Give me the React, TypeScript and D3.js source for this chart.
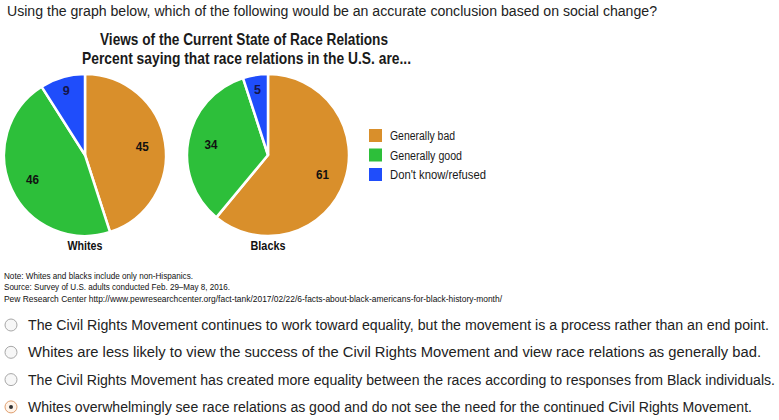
import { useEffect, useRef } from 'react';
import * as d3 from 'd3';

// categories, in the order the slices are drawn (clockwise from 12 o'clock)
const categories = ['Generally bad', 'Generally good', "Don't know/refused"];
const categoryColors = ['#d98f2b', '#2dbf3a', '#1f4dfb'];

// survey groups and their shares (percent)
const groups = ['Whites', 'Blacks'];
const whitesValues = [45, 46, 9];
const blacksValues = [61, 34, 5];

const question =
  'Using the graph below, which of the following would be an accurate conclusion based on social change?';
const titleLines = [
  'Views of the Current State of Race Relations',
  'Percent saying that race relations in the U.S. are...',
];
const notes = [
  'Note: Whites and blacks include only non-Hispanics.',
  'Source: Survey of U.S. adults conducted Feb. 29–May 8, 2016.',
  'Pew Research Center http://www.pewresearchcenter.org/fact-tank/2017/02/22/6-facts-about-black-americans-for-black-history-month/',
];
const options = [
  'The Civil Rights Movement continues to work toward equality, but the movement is a process rather than an end point.',
  'Whites are less likely to view the success of the Civil Rights Movement and view race relations as generally bad.',
  'The Civil Rights Movement has created more equality between the races according to responses from Black individuals.',
  'Whites overwhelmingly see race relations as good and do not see the need for the continued Civil Rights Movement.',
];
const selectedOption = 3;

function App() {
  const svgRef = useRef<SVGSVGElement>(null);

  useEffect(() => {
    if (!svgRef.current) return;
    const svg = d3.select(svgRef.current);
    svg.selectAll('*').remove();

    const width = 779;
    const height = 420;
    svg.attr('viewBox', `0 0 ${width} ${height}`);

    const sans = '"Liberation Sans", Arial, sans-serif';

    // question
    svg.append('text')
      .attr('x', 7).attr('y', 16)
      .attr('font-family', sans).attr('font-size', 14).attr('fill', '#222')
      .attr('textLength', 650).attr('lengthAdjust', 'spacingAndGlyphs')
      .text(question);

    // title (condensed look: squeeze a bold sans into the measured widths)
    const titleSpans = [[100, 45, 288], [82, 64, 329]];
    titleLines.forEach((t, i) => {
      svg.append('text')
        .attr('x', titleSpans[i][0]).attr('y', titleSpans[i][1])
        .attr('font-family', sans).attr('font-weight', 'bold')
        .attr('font-size', 16.5).attr('fill', '#1a1a1a')
        .attr('textLength', titleSpans[i][2]).attr('lengthAdjust', 'spacingAndGlyphs')
        .text(t);
    });

    // pies
    const radius = 81;
    const centers = [85, 268];
    const pie = d3.pie<number>().sort(null).value(d => d);
    const arc = d3.arc<d3.PieArcDatum<number>>().innerRadius(0).outerRadius(radius);

    [whitesValues, blacksValues].forEach((vals, gi) => {
      const g = svg.append('g').attr('transform', `translate(${centers[gi]},155)`);
      const slices = pie(vals);

      g.selectAll('path')
        .data(slices)
        .enter()
        .append('path')
        .attr('d', arc)
        .attr('fill', (_, i) => categoryColors[i])
        .attr('stroke', '#fff')
        .attr('stroke-width', 2.5)
        .attr('stroke-linejoin', 'round');

      g.selectAll('text.val')
        .data(slices)
        .enter()
        .append('text')
        .attr('class', 'val')
        .attr('transform', d => {
          const r = d.data < 10 ? 67 : 58;
          const a = (d.startAngle + d.endAngle) / 2;
          return `translate(${Math.sin(a) * r},${-Math.cos(a) * r})`;
        })
        .attr('dy', '0.36em')
        .attr('text-anchor', 'middle')
        .attr('font-family', sans).attr('font-weight', 'bold').attr('font-size', 13)
        .attr('fill', (_, i) => (i === 2 ? '#15154a' : '#111'))
        .attr('textLength', d => (d.data < 10 ? 7 : 13)).attr('lengthAdjust', 'spacingAndGlyphs')
        .text(d => d.data);

      svg.append('text')
        .attr('x', centers[gi]).attr('y', 250)
        .attr('text-anchor', 'middle')
        .attr('font-family', sans).attr('font-weight', 'bold').attr('font-size', 13)
        .attr('fill', '#111')
        .attr('textLength', 35).attr('lengthAdjust', 'spacingAndGlyphs')
        .text(groups[gi]);
    });

    // legend
    const legendWidths = [65, 72, 96];
    const legend = svg.append('g').attr('transform', 'translate(369,129)');
    categories.forEach((c, i) => {
      const row = legend.append('g').attr('transform', `translate(0,${i * 19.5})`);
      row.append('rect').attr('width', 13).attr('height', 13).attr('fill', categoryColors[i]);
      row.append('text')
        .attr('x', 21).attr('y', 11)
        .attr('font-family', sans).attr('font-size', 12.5).attr('fill', '#1a1a1a')
        .attr('textLength', legendWidths[i]).attr('lengthAdjust', 'spacingAndGlyphs')
        .text(c);
    });

    // notes
    const noteWidths = [189, 226, 498];
    notes.forEach((n, i) => {
      svg.append('text')
        .attr('x', 4).attr('y', 279 + i * 11.3)
        .attr('font-family', sans).attr('font-size', 9).attr('fill', '#111')
        .attr('textLength', noteWidths[i]).attr('lengthAdjust', 'spacingAndGlyphs')
        .text(n);
    });

    // answer options
    const optionWidths = [741, 733, 747, 724];
    options.forEach((o, i) => {
      const cy = 325 + i * 27.3;
      const selected = i === selectedOption;
      svg.append('circle')
        .attr('cx', 11).attr('cy', cy).attr('r', 6)
        .attr('fill', selected ? '#fff4ea' : '#f7f7f7')
        .attr('stroke', selected ? '#e0a070' : '#a8a8a8')
        .attr('stroke-width', 1);
      if (selected) {
        svg.append('circle').attr('cx', 11).attr('cy', cy).attr('r', 2).attr('fill', '#333');
      }
      svg.append('text')
        .attr('x', 28).attr('y', cy + 5)
        .attr('font-family', sans).attr('font-size', 14).attr('fill', '#222')
        .attr('textLength', optionWidths[i]).attr('lengthAdjust', 'spacingAndGlyphs')
        .text(o);
    });
  }, []);

  return (
    <svg
      ref={svgRef}
      width={779}
      height={420}
      style={{ position: 'absolute', left: 0, top: 0, background: '#fff' }}
    />
  );
}

export default App;
